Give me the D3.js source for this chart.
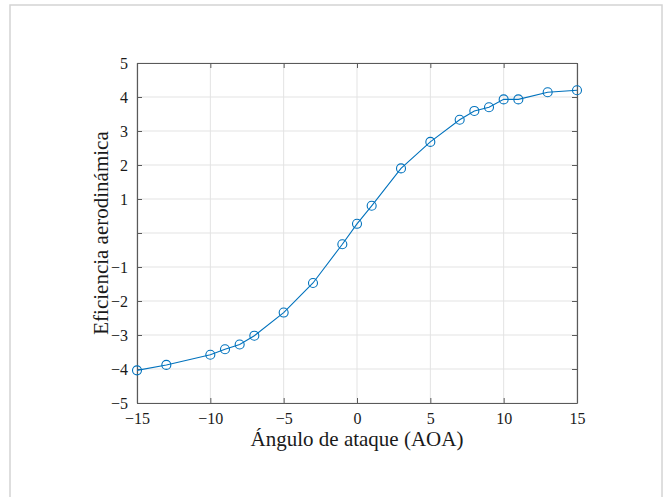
<!DOCTYPE html>
<html><head><meta charset="utf-8">
<script src="https://cdn.jsdelivr.net/npm/d3@7"></script>
<style>
html,body{margin:0;padding:0;background:#fff;}
svg{display:block;}
svg text{font-family:"Liberation Serif","Times New Roman",serif !important;fill:#1a1a1a;}
</style></head>
<body>
<svg id="c" width="666" height="497"></svg>
<script>
const aoa = [-15,-13,-10,-9,-8,-7,-5,-3,-1,0,1,3,5,7,8,9,10,11,13,15];
const efficiency = [-4.04,-3.88,-3.58,-3.42,-3.28,-3.02,-2.34,-1.47,-0.33,0.27,0.80,1.90,2.68,3.33,3.59,3.70,3.93,3.93,4.14,4.20];
const xTicks = [-15,-10,-5,0,5,10,15];
const yTicks = [-5,-4,-3,-2,-1,0,1,2,3,4,5];
const yTickLabels = ["−5","−4","−3","−2","−1","","1","2","3","4","5"];
const xLabel = "Ángulo de ataque (AOA)";
const yLabel = "Eficiencia aerodinámica";

(function(){
const svg = d3.select("#c");
const m = {l:137, t:63, r:577, b:403};
const x = d3.scaleLinear().domain([-15,15]).range([m.l,m.r]);
const y = d3.scaleLinear().domain([-5,5]).range([m.b,m.t]);

// outer frame
svg.append("rect").attr("x",10).attr("y",5).attr("width",652).attr("height",520)
  .attr("fill","none").attr("stroke","#d4d4d4").attr("stroke-width",1.5);

// grid
const g = svg.append("g");
g.selectAll(".gx").data(xTicks).join("line")
  .attr("x1",d=>x(d)).attr("x2",d=>x(d)).attr("y1",m.t).attr("y2",m.b)
  .attr("stroke","#e3e3e3").attr("stroke-width",1);
g.selectAll(".gy").data(yTicks).join("line")
  .attr("y1",d=>y(d)).attr("y2",d=>y(d)).attr("x1",m.l).attr("x2",m.r)
  .attr("stroke","#e3e3e3").attr("stroke-width",1);

// axes (ticks inward)
const axCol = "#5a5a5a";
const axB = svg.append("g").attr("transform",`translate(0,${m.b})`)
  .call(d3.axisBottom(x).tickValues(xTicks).tickSizeInner(-5).tickSizeOuter(0)
    .tickPadding(10).tickFormat(d=>d<0?"−"+Math.abs(d):String(d)));
const axL = svg.append("g").attr("transform",`translate(${m.l},0)`)
  .call(d3.axisLeft(y).tickValues(yTicks).tickSizeInner(-5).tickSizeOuter(0)
    .tickPadding(9).tickFormat((d,i)=>yTickLabels[i]));
const axT = svg.append("g").attr("transform",`translate(0,${m.t})`)
  .call(d3.axisTop(x).tickValues(xTicks).tickSizeInner(-5).tickSizeOuter(0).tickFormat(""));
const axR = svg.append("g").attr("transform",`translate(${m.r},0)`)
  .call(d3.axisRight(y).tickValues(yTicks).tickSizeInner(-5).tickSizeOuter(0).tickFormat(""));
[axB,axL,axT,axR].forEach(a=>{
  a.attr("font-family",null).attr("font-size",null);
  a.select(".domain").attr("stroke",axCol).attr("stroke-width",1.2);
  a.selectAll(".tick line").attr("stroke",axCol);
  a.selectAll(".tick text").style("font-family","'Liberation Serif', serif").style("font-size","16px").attr("fill","#1a1a1a");
});

// line + markers
const blue = "#0072BD";
const pts = aoa.map((a,i)=>[a,efficiency[i]]);
svg.append("path").datum(pts)
  .attr("d",d3.line().x(d=>x(d[0])).y(d=>y(d[1])))
  .attr("fill","none").attr("stroke",blue).attr("stroke-width",1.1);
svg.selectAll(".mk").data(pts).join("circle")
  .attr("cx",d=>x(d[0])).attr("cy",d=>y(d[1])).attr("r",4.5)
  .attr("fill","none").attr("stroke",blue).attr("stroke-width",1.1);

// labels
svg.append("text").attr("x",(m.l+m.r)/2).attr("y",446).attr("text-anchor","middle")
  .style("font-size","21px").text(xLabel);
svg.append("text").attr("transform",`translate(108,${(m.t+m.b)/2}) rotate(-90)`)
  .attr("text-anchor","middle").style("font-size","21px").text(yLabel);
})();
</script>
</body></html>
